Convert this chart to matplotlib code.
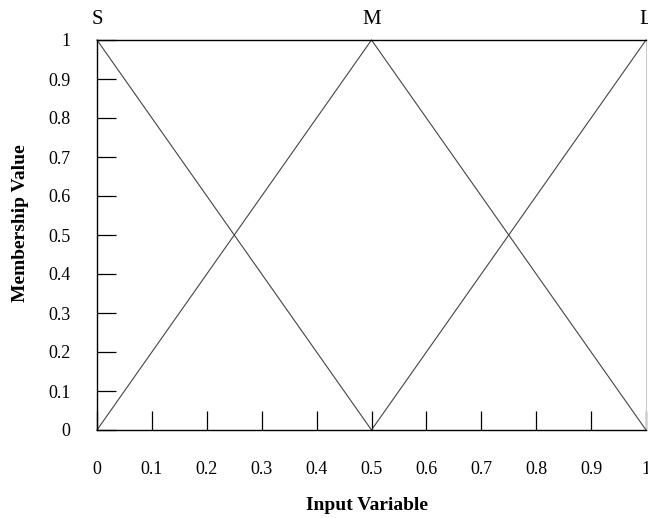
import matplotlib
matplotlib.use('Agg')
import matplotlib.pyplot as plt

# membership functions (breakpoints)
s_x = [0.0, 0.5]
s_y = [1.0, 0.0]
m_x = [0.0, 0.5, 1.0]
m_y = [0.0, 1.0, 0.0]
l_x = [0.5, 1.0]
l_y = [0.0, 1.0]

set_names = ['S', 'M', 'L']
set_peaks = [0.0, 0.5, 1.0]

ticks = [0, 0.1, 0.2, 0.3, 0.4, 0.5, 0.6, 0.7, 0.8, 0.9, 1]
tick_labels = ['0', '0.1', '0.2', '0.3', '0.4', '0.5', '0.6', '0.7', '0.8', '0.9', '1']

plt.rcParams['font.family'] = ['Liberation Serif', 'DejaVu Serif']

fig = plt.figure(figsize=(6.48, 5.18), dpi=100)
ax = fig.add_axes([97/648, 88/518, 549/648, 390/518])

for xs, ys in [(s_x, s_y), (m_x, m_y), (l_x, l_y)]:
    ax.plot(xs, ys, color='#444444', linewidth=0.8, clip_on=False)

for name, px in zip(set_names, set_peaks):
    ax.text(px, (430 - 20) / 390, name, ha='center', va='center', fontsize=15)

ax.set_xlim(0, 1)
ax.set_ylim(0, 1)
ax.set_xticks(ticks)
ax.set_xticklabels(tick_labels)
ax.set_yticks(ticks)
ax.set_yticklabels(tick_labels)
ax.tick_params(axis='x', direction='in', length=13.5, width=0.9, pad=22, labelsize=13)
ax.tick_params(axis='y', direction='in', length=13.5, width=0.9, pad=19, labelsize=13)

for side in ['left', 'bottom', 'top']:
    ax.spines[side].set_linewidth(1.0)
    ax.spines[side].set_color('black')
ax.spines['right'].set_color('#cccccc')
ax.spines['right'].set_linewidth(0.8)

ax.set_xlabel('Input Variable', fontsize=14, fontweight='bold', va='center')
ax.set_ylabel('Membership Value', fontsize=14, fontweight='bold', va='center')
ax.xaxis.set_label_coords(0.5 - 4/549, (430 - 506) / 390)
ax.yaxis.set_label_coords((21 - 97) / 549, 0.5 - (223 - 235) / 390)

fig.savefig('out.png', dpi=100)
